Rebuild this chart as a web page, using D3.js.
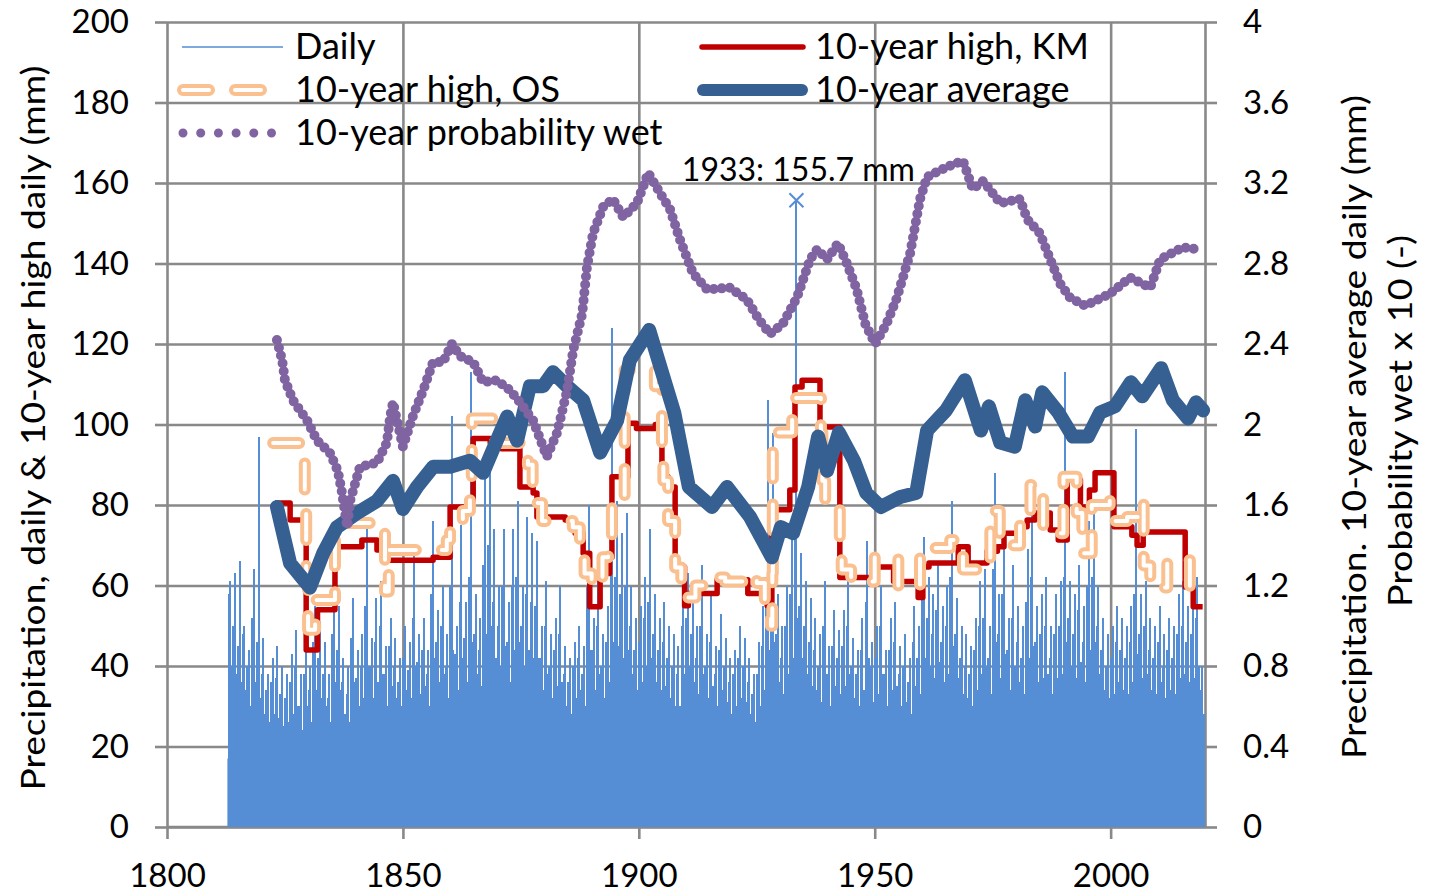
<!DOCTYPE html>
<html>
<head>
<meta charset="utf-8">
<script src="https://cdn.jsdelivr.net/npm/d3@7"></script>
<style>
  body { margin: 0; background: #fff; }
  text { font-family: Lato, "Open Sans", sans-serif; fill: #000; }
</style>
</head>
<body>
<svg id="chart" width="1429" height="895"></svg>
<script>
// ---- data ----
const dailyStart = 1813;
// tallest day of each year, 1813..2019
const dailyMax = [
  61, 63, 66, 50, 44, 64, 97, 47, 38, 42,
  45, 40, 38, 43, 49, 38, 45, 40, 55, 51,
  46, 38, 57, 55, 42, 40, 57, 44, 48, 74,
  47, 57, 61, 45, 52, 47, 42, 50, 46, 68,
  48, 52, 44, 76, 54, 60, 48, 102, 50, 75,
  56, 113, 58, 52, 89, 94, 74, 60, 74, 56,
  74, 81, 60, 77, 73, 71, 50, 61, 48, 52,
  60, 45, 42, 46, 50, 45, 80, 52, 61, 48,
  55, 124, 81, 73, 78, 60, 52, 55, 62, 74,
  58, 52, 56, 50, 48, 45, 60, 63, 59, 50,
  65, 48, 58, 45, 53, 47, 42, 44, 50, 47,
  42, 38, 46, 55, 106, 98, 58, 50, 60, 76,
  155.7, 68, 61, 57, 52, 48, 61, 45, 54, 49,
  54, 61, 47, 44, 52, 71, 46, 50, 60, 44,
  52, 56, 45, 48, 42, 55, 50, 72, 62, 58,
  65, 55, 60, 81, 57, 50, 48, 45, 52, 61,
  64, 50, 88, 58, 74, 52, 65, 55, 50, 69,
  83, 55, 58, 62, 50, 58, 61, 113, 61, 58,
  65, 55, 76, 78, 60, 52, 48, 50, 55, 52,
  50, 55, 99, 58, 61, 52, 50, 55, 48, 52,
  50, 58, 61, 55, 58, 62, 40
];
// next tallest days of each year
const dailySecond = [
  58, 50, 45, 48, 40, 52, 46, 38, 34, 36,
  37, 33, 32, 36, 40, 30, 38, 34, 46, 42,
  38, 32, 48, 44, 36, 33, 47, 37, 40, 55,
  40, 46, 50, 38, 45, 40, 36, 42, 39, 52,
  41, 44, 38, 58, 46, 50, 40, 60, 43, 56,
  47, 62, 48, 44, 65, 70, 56, 50, 60, 46,
  60, 62, 50, 58, 56, 55, 42, 50, 40, 44,
  48, 38, 36, 40, 42, 38, 60, 44, 50, 40,
  46, 64, 62, 58, 60, 50, 44, 46, 52, 56,
  48, 44, 46, 42, 40, 38, 50, 52, 48, 42,
  50, 40, 46, 38, 44, 40, 36, 38, 42, 40,
  36, 33, 38, 45, 62, 66, 48, 42, 50, 58,
  76, 55, 50, 46, 44, 40, 50, 38, 45, 42,
  45, 50, 40, 38, 44, 56, 40, 42, 50, 38,
  44, 46, 38, 40, 36, 46, 42, 58, 52, 48,
  54, 46, 50, 62, 48, 42, 40, 38, 44, 50,
  52, 42, 64, 48, 58, 44, 52, 46, 42, 56,
  62, 46, 48, 50, 42, 48, 50, 62, 52, 48,
  54, 46, 60, 62, 50, 44, 40, 42, 46, 44,
  42, 46, 58, 48, 50, 44, 42, 46, 40, 44,
  42, 48, 50, 46, 48, 52, 34
];
const dailyThird = [
  40, 38, 36, 34, 30, 36, 32, 28, 26, 28,
  27, 25, 26, 28, 30, 24, 30, 26, 34, 32,
  30, 26, 36, 34, 28, 26, 36, 30, 32, 40,
  32, 36, 38, 30, 35, 32, 30, 34, 32, 40,
  33, 35, 30, 42, 36, 38, 32, 44, 34, 42,
  36, 46, 38, 35, 48, 50, 42, 40, 45, 36,
  44, 46, 40, 44, 42, 42, 34, 38, 32, 35,
  36, 30, 28, 32, 34, 30, 44, 34, 38, 32,
  36, 46, 45, 42, 44, 38, 34, 36, 40, 42,
  36, 34, 35, 32, 30, 30, 38, 40, 36, 33,
  38, 32, 35, 30, 34, 31, 28, 30, 32, 31,
  28, 26, 30, 34, 44, 46, 36, 33, 38, 42,
  52, 42, 38, 35, 34, 31, 38, 30, 35, 33,
  35, 38, 32, 30, 34, 42, 31, 33, 38, 30,
  34, 35, 30, 31, 28, 35, 33, 42, 40, 37,
  41, 36, 38, 45, 37, 33, 32, 30, 34, 38,
  40, 33, 46, 37, 43, 34, 40, 36, 33, 42,
  45, 36, 37, 38, 33, 37, 38, 46, 40, 37,
  41, 36, 44, 46, 38, 34, 32, 33, 36, 34,
  33, 36, 43, 37, 38, 34, 33, 36, 32, 34,
  33, 37, 38, 36, 37, 40, 28
];
// level of the solid mass of ordinary wet days, 5-year blocks from 1813
const dailyBase = [
  17, 16, 15, 15, 17, 18, 20, 21, 22, 23, 24, 24, 22, 21,
  20, 21, 23, 22, 21, 20, 20, 19, 19, 20, 22, 21, 21, 20,
  21, 22, 23, 23, 23, 22, 23, 24, 23, 22, 23, 23, 23, 23
];

const kmYears = [1822.9, 1826.1, 1829.0, 1829.5, 1831.9, 1835.6, 1841.3, 1844.5, 1846.2, 1856.4,
  1860.0, 1864.2, 1864.9, 1868.5, 1870.9, 1874.8, 1877.6, 1878.4, 1884.4, 1886.5,
  1888.2, 1889.6, 1891.8, 1893.8, 1894.3, 1897.7, 1899.5, 1903.5, 1904.9, 1906.2,
  1907.7, 1909.7, 1910.5, 1916.6, 1923.1, 1927.2, 1927.8, 1928.2, 1932.0, 1933.1,
  1934.6, 1938.4, 1942.6, 1949.4, 1954.0, 1959.2, 1960.2, 1961.5, 1967.7, 1969.8,
  1973.8, 1976.0, 1977.4, 1980.6, 1982.3, 1984.0, 1987.2, 1988.9, 1990.8, 1993.6,
  1995.5, 1996.7, 2000.7, 2004.5, 2005.6, 2006.9, 2015.8, 2017.5, 2019.5];
const kmValues = [80.5, 76.3, 75.7, 44, 54, 69.6, 71.3, 68.8, 66.3, 67,
  79.5, 81.2, 96.5, 95.5, 94, 84.5, 83, 77, 76.3, 73,
  68, 54.7, 63, 67, 87, 100.3, 99, 100, 87, 84.5,
  64.6, 55, 58, 61.4, 58, 55, 53, 78.8, 83.7, 109.3,
  111, 99.4, 62, 64.6, 61, 57, 64.6, 65.6, 69.6, 65.6,
  68.5, 69.6, 73, 74.6, 76.3, 78, 73.8, 71.3, 86.2, 79.5,
  83.7, 88, 74.6, 72.5, 70, 73.3, 59.6, 54.7, 54.7];

const osYears = [1822.5, 1828.9, 1829.2, 1829.5, 1829.9, 1831.4, 1835.6, 1846.2, 1847.0, 1859.3,
  1860.0, 1862.7, 1864.2, 1864.6, 1869.5, 1876.5, 1877.5, 1879.5, 1886.0, 1887.5,
  1888.5, 1890.0, 1892.3, 1893.5, 1894.3, 1897.0, 1903.4, 1904.9, 1905.2, 1906.2,
  1907.7, 1909.0, 1910.4, 1912.0, 1916.0, 1918.3, 1922.5, 1925.0, 1926.7, 1928.0,
  1928.3, 1928.4, 1932.5, 1938.6, 1938.9, 1939.5, 1942.6, 1943.0, 1945.0, 1950.0,
  1955.0, 1959.6, 1966.0, 1968.7, 1974.5, 1976.5, 1980.8, 1983.0, 1985.7, 1990.0,
  1992.8, 1994.0, 1996.0, 1999.8, 2001.0, 2003.5, 2006.0, 2007.0, 2008.4, 2012.0,
  2016.8, 2019.6];
const osValues = [95.4, 92, 80, 62, 49, 56.4, 75.5, 58.5, 68.8, 71.3,
  76.3, 78.5, 83, 101.5, 95.4, 90, 80.5, 76, 74.5, 68,
  63, 60, 67, 72, 80, 113.5, 109.5, 95, 86, 76,
  64.5, 61, 57, 60, 62, 61, 62.5, 60.6, 52, 50,
  63, 98, 106.6, 98, 86, 80, 72, 64, 61, 67,
  59.6, 69.3, 71.3, 64, 78.5, 70, 75, 85, 73, 87,
  78, 68, 80, 81, 76, 77, 81, 65, 59.5, 66.3,
  58, 58];

const avgYears = [1823.3, 1826.1, 1830.3, 1833.1, 1836.0, 1840.3, 1844.5, 1847.9, 1850.0, 1853.0,
  1856.4, 1860.0, 1864.2, 1867.0, 1869.9, 1872.1, 1874.2, 1876.9, 1879.7, 1881.8,
  1884.8, 1888.2, 1891.8, 1895.4, 1898.1, 1902.2, 1907.5, 1910.6, 1915.5, 1918.7,
  1923.6, 1928.2, 1930.1, 1932.7, 1935.9, 1938.0, 1939.9, 1942.4, 1945.6, 1948.2,
  1951.3, 1955.4, 1958.8, 1961.1, 1965.1, 1969.1, 1972.5, 1974.2, 1976.6, 1979.7,
  1981.9, 1984.0, 1985.5, 1988.9, 1992.0, 1995.2, 1997.8, 2000.9, 2004.3, 2006.7,
  2010.7, 2013.2, 2016.4, 2018.1, 2019.6];
const avgValues = [1.59, 1.31, 1.19, 1.36, 1.49, 1.56, 1.62, 1.72, 1.58, 1.69,
  1.79, 1.79, 1.82, 1.76, 1.92, 2.04, 1.92, 2.19, 2.19, 2.26,
  2.19, 2.12, 1.86, 2.02, 2.32, 2.47, 2.06, 1.69, 1.59, 1.69,
  1.54, 1.34, 1.49, 1.46, 1.69, 1.94, 1.77, 1.96, 1.82, 1.66,
  1.59, 1.64, 1.66, 1.97, 2.07, 2.22, 1.97, 2.09, 1.91, 1.89,
  2.12, 1.99, 2.16, 2.06, 1.94, 1.94, 2.06, 2.09, 2.21, 2.14,
  2.28, 2.12, 2.03, 2.11, 2.07];

const wetYears = [1823.3, 1824.4, 1825.0, 1826.7, 1829.7, 1831.8, 1834.5, 1836.2, 1837.1, 1838.2,
  1838.8, 1840.9, 1844.5, 1846.6, 1847.3, 1847.9, 1850.0, 1852.1, 1854.3, 1856.4,
  1858.5, 1860.4, 1862.1, 1864.9, 1867.0, 1869.9, 1872.7, 1874.8, 1877.6, 1880.5,
  1882.7, 1884.8, 1886.1, 1888.0, 1889.0, 1890.3, 1892.4, 1894.5, 1896.7, 1899.6,
  1902.0, 1904.5, 1906.6, 1908.7, 1911.5, 1914.5, 1919.3, 1922.9, 1925.5, 1927.8,
  1930.5, 1933.5, 1936.3, 1937.8, 1939.9, 1942.2, 1944.1, 1946.2, 1948.0, 1950.1,
  1952.5, 1954.7, 1957.5, 1959.6, 1961.1, 1965.3, 1968.7, 1970.8, 1973.0, 1976.6,
  1980.8, 1982.3, 1985.0, 1987.2, 1989.3, 1991.4, 1994.6, 1999.9, 2004.1, 2008.4,
  2010.5, 2015.3, 2018.9];
const wetValues = [2.42, 2.32, 2.22, 2.12, 2.02, 1.92, 1.86, 1.77, 1.66, 1.49,
  1.62, 1.79, 1.81, 1.91, 2.04, 2.11, 1.89, 2.04, 2.17, 2.31,
  2.31, 2.40, 2.34, 2.31, 2.21, 2.22, 2.17, 2.11, 2.02, 1.84,
  1.96, 2.17, 2.37, 2.55, 2.78, 2.95, 3.08, 3.12, 3.03, 3.10,
  3.25, 3.15, 3.07, 2.92, 2.75, 2.67, 2.68, 2.62, 2.52, 2.45,
  2.50, 2.63, 2.82, 2.87, 2.82, 2.90, 2.80, 2.67, 2.50, 2.40,
  2.50, 2.63, 2.85, 3.12, 3.23, 3.28, 3.31, 3.17, 3.21, 3.10,
  3.12, 3.02, 2.95, 2.82, 2.70, 2.63, 2.59, 2.65, 2.73, 2.68,
  2.82, 2.88, 2.87];

const yearTicks = [1800, 1850, 1900, 1950, 2000];
const leftTicks = [0, 20, 40, 60, 80, 100, 120, 140, 160, 180, 200];
const rightTicks = [0, 0.4, 0.8, 1.2, 1.6, 2, 2.4, 2.8, 3.2, 3.6, 4];
const peak = { year: 1933, value: 155.7, label: "1933: 155.7 mm" };

// ---- colours ----
const cDaily = "#558ed5", cKM = "#c00000", cOS = "#fac090", cAvg = "#366092", cWet = "#8064a2", cGrid = "#898989";

const svg = d3.select("#chart");
const plotLeft = 167, plotRight = 1205, plotTop = 22, plotBottom = 827;

const x = d3.scaleLinear().domain([1800, 2020]).range([plotLeft, plotRight]);
const yL = d3.scaleLinear().domain([0, 200]).range([plotBottom, plotTop]);
const yR = d3.scaleLinear().domain([0, 4]).range([plotBottom, plotTop]);

// grid
svg.append("g")
  .attr("transform", `translate(${plotLeft},0)`)
  .call(d3.axisLeft(yL).tickValues(leftTicks).tickSize(-(plotRight - plotLeft)).tickFormat(""))
  .call(g => g.select(".domain").remove())
  .call(g => g.selectAll("line").attr("stroke", cGrid).attr("stroke-width", 2.6));
svg.append("g")
  .attr("transform", `translate(0,${plotBottom})`)
  .call(d3.axisBottom(x).tickValues(yearTicks.slice(1)).tickSize(-(plotBottom - plotTop)).tickFormat(""))
  .call(g => g.select(".domain").remove())
  .call(g => g.selectAll("line").attr("stroke", cGrid).attr("stroke-width", 2.6));

// axes
const styleAxis = g => {
  g.attr("font-family", null).attr("font-size", null);
  g.selectAll("line, .domain").attr("stroke", cGrid).attr("stroke-width", 2.6);
  g.selectAll("text").style("font-size", "33px").attr("fill", "#000");
};
svg.append("g")
  .attr("transform", `translate(${plotLeft},0)`)
  .call(d3.axisLeft(yL).tickValues(leftTicks).tickSize(12).tickSizeOuter(0).tickPadding(26))
  .call(styleAxis);
svg.append("g")
  .attr("transform", `translate(${plotRight},0)`)
  .call(d3.axisRight(yR).tickValues(rightTicks).tickFormat(d3.format("~g")).tickSize(12).tickSizeOuter(0).tickPadding(26))
  .call(styleAxis);
svg.append("g")
  .attr("transform", `translate(0,${plotBottom})`)
  .call(d3.axisBottom(x).tickValues(yearTicks).tickFormat(d3.format("d")).tickSize(12).tickSizeOuter(0).tickPadding(25))
  .call(styleAxis)
  .call(g => g.select(".domain").attr("d", `M${plotLeft},0H${plotRight}`));

// daily precipitation
const yearIdx = dailyMax.map((d, i) => i);
svg.append("path")
  .datum(dailyBase.concat([dailyBase[dailyBase.length - 1]]))
  .attr("fill", cDaily)
  .attr("d", d3.area()
    .curve(d3.curveStepAfter)
    .x((d, i) => x(Math.min(dailyStart - 0.2 + i * 5, 2019.5)))
    .y0(yL(0))
    .y1(d => yL(d)));
const spikes = [];
yearIdx.forEach(i => {
  spikes.push({ t: dailyStart + i + 0.05, v: dailySecond[i] });
  spikes.push({ t: dailyStart + i + 0.4, v: dailyMax[i] });
  spikes.push({ t: dailyStart + i + 0.72, v: dailyThird[i] });
});
svg.append("g")
  .attr("shape-rendering", "crispEdges")
  .selectAll("line")
  .data(spikes)
  .enter()
  .append("line")
  .attr("x1", d => x(d.t)).attr("x2", d => x(d.t))
  .attr("y1", yL(0)).attr("y2", d => yL(d.v))
  .attr("stroke", cDaily)
  .attr("stroke-width", 2);

// 10-year high KM
const stepLine = d3.line().curve(d3.curveStepAfter).x(d => x(d[0])).y(d => yL(d[1]));
svg.append("path")
  .datum(d3.zip(kmYears, kmValues))
  .attr("fill", "none").attr("stroke", cKM).attr("stroke-width", 5.5)
  .attr("stroke-linejoin", "round")
  .attr("d", stepLine);

// 10-year high OS (outlined dashes)
const osData = d3.zip(osYears, osValues);
svg.append("path")
  .datum(osData)
  .attr("fill", "none").attr("stroke", cOS).attr("stroke-width", 12)
  .attr("stroke-linecap", "round").attr("stroke-linejoin", "round")
  .attr("stroke-dasharray", "26,26")
  .attr("d", stepLine);
svg.append("path")
  .datum(osData)
  .attr("fill", "none").attr("stroke", "#fff").attr("stroke-width", 4)
  .attr("stroke-linecap", "round").attr("stroke-linejoin", "round")
  .attr("stroke-dasharray", "26,26")
  .attr("d", stepLine);

// 10-year average (right axis)
svg.append("path")
  .datum(d3.zip(avgYears, avgValues))
  .attr("fill", "none").attr("stroke", cAvg).attr("stroke-width", 14)
  .attr("stroke-linecap", "round").attr("stroke-linejoin", "round")
  .attr("d", d3.line().x(d => x(d[0])).y(d => yR(d[1])));

// 10-year probability wet (right axis)
svg.append("path")
  .datum(d3.zip(wetYears, wetValues))
  .attr("fill", "none").attr("stroke", cWet).attr("stroke-width", 10)
  .attr("stroke-linecap", "round")
  .attr("stroke-dasharray", "0,8")
  .attr("d", d3.line().x(d => x(d[0])).y(d => yR(d[1])));

// peak annotation
const px = x(peak.year + 0.4), py = yL(peak.value);
svg.append("path")
  .attr("d", `M${px - 7},${py - 7}L${px + 7},${py + 7}M${px - 7},${py + 7}L${px + 7},${py - 7}`)
  .attr("stroke", cDaily).attr("stroke-width", 2);
svg.append("text")
  .attr("x", px + 2).attr("y", py - 19)
  .attr("text-anchor", "middle")
  .style("font-size", "32px")
  .text(peak.label);

// legend
const legend = svg.append("g");
const legendText = (tx, ty, s) => legend.append("text").attr("x", tx).attr("y", ty).style("font-size", "36px").text(s);
legend.append("line").attr("x1", 182).attr("x2", 283).attr("y1", 47).attr("y2", 47)
  .attr("stroke", cDaily).attr("stroke-width", 1.5);
legendText(295, 59, "Daily");
legend.append("line").attr("x1", 183).attr("x2", 261).attr("y1", 90).attr("y2", 90)
  .attr("stroke", cOS).attr("stroke-width", 12).attr("stroke-linecap", "round").attr("stroke-dasharray", "26,26");
legend.append("line").attr("x1", 183).attr("x2", 261).attr("y1", 90).attr("y2", 90)
  .attr("stroke", "#fff").attr("stroke-width", 4).attr("stroke-linecap", "round").attr("stroke-dasharray", "26,26");
legendText(295, 102, "10-year high, OS");
legend.append("line").attr("x1", 183).attr("x2", 272).attr("y1", 133).attr("y2", 133)
  .attr("stroke", cWet).attr("stroke-width", 9).attr("stroke-linecap", "round").attr("stroke-dasharray", "0,17.7");
legendText(295, 145, "10-year probability wet");
legend.append("line").attr("x1", 702).attr("x2", 803).attr("y1", 47).attr("y2", 47)
  .attr("stroke", cKM).attr("stroke-width", 5.5).attr("stroke-linecap", "round");
legendText(815, 59, "10-year high, KM");
legend.append("line").attr("x1", 703).attr("x2", 802).attr("y1", 90).attr("y2", 90)
  .attr("stroke", cAvg).attr("stroke-width", 12).attr("stroke-linecap", "round");
legendText(815, 102, "10-year average");

// axis titles
svg.append("text")
  .attr("transform", "translate(45,428) rotate(-90)")
  .attr("text-anchor", "middle")
  .attr("textLength", 725).attr("lengthAdjust", "spacingAndGlyphs")
  .style("font-size", "33px")
  .text("Precipitation, daily & 10-year high daily (mm)");
svg.append("text")
  .attr("transform", "translate(1366,427) rotate(-90)")
  .attr("text-anchor", "middle")
  .attr("textLength", 664).attr("lengthAdjust", "spacingAndGlyphs")
  .style("font-size", "33px")
  .text("Precipitation. 10-year average daily (mm)");
svg.append("text")
  .attr("transform", "translate(1412,421) rotate(-90)")
  .attr("text-anchor", "middle")
  .attr("textLength", 372).attr("lengthAdjust", "spacingAndGlyphs")
  .style("font-size", "33px")
  .text("Probability wet x 10 (-)");
</script>
</body>
</html>
